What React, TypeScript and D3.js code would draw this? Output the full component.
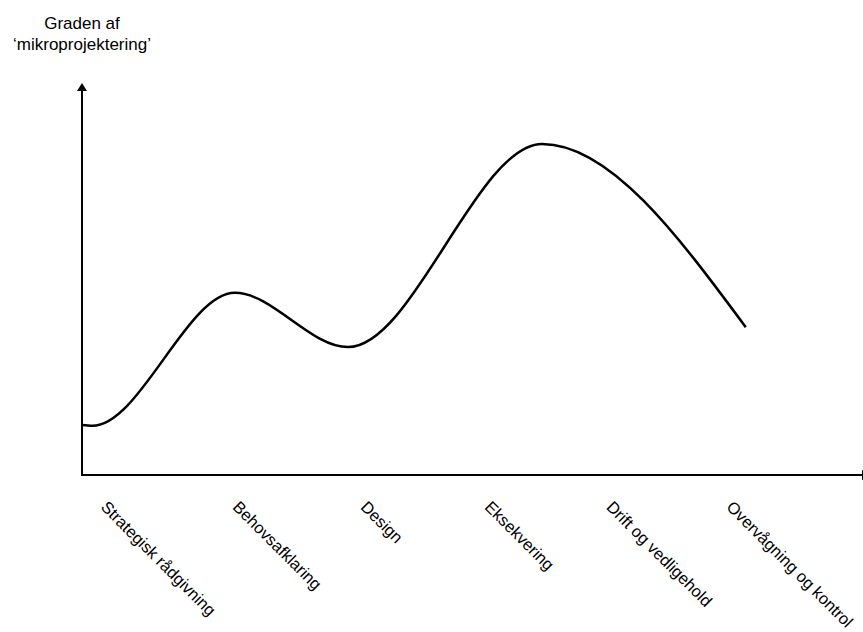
import React from "react";
import * as d3 from "d3";

const W = 863;
const H = 632;

// curve: x in % of the time axis, y in % of the height of the axis
const curveX = [0, 1.3, 19.6, 34.1, 59.0, 85.1];
const curveY = [12.8, 12.6, 46.7, 32.8, 84.9, 37.9];

const categories = [
  "Strategisk rådgivning",
  "Behovsafklaring",
  "Design",
  "Eksekvering",
  "Drift og vedligehold",
  "Overvågning og kontrol",
];
const categoryPos = [2.3, 19.2, 35.6, 51.5, 67.1, 82.5];

const titleLines = ["Graden af", "\u2018mikroprojektering\u2019"];

export default function App() {
  const x0 = 82;
  const y0 = 475;
  const xScale = d3.scaleLinear().domain([0, 100]).range([x0, 862]);
  const yScale = d3.scaleLinear().domain([0, 100]).range([y0, 85]);

  const pts: [number, number][] = curveX.map((v, i) => [v, curveY[i]]);
  const line = d3
    .line<[number, number]>()
    .x((d) => xScale(d[0]))
    .y((d) => yScale(d[1]))
    .curve(d3.curveMonotoneX);

  const font = "'Liberation Sans', Arial, sans-serif";

  return (
    <svg
      width={W}
      height={H}
      style={{ position: "absolute", left: 0, top: 0, background: "#fff" }}
      fontFamily={font}
    >
      <rect width={W} height={H} fill="#fff" />
      {/* axes */}
      <line x1={x0} y1={y0} x2={x0} y2={90} stroke="#000" strokeWidth={2} />
      <path d={`M${x0 - 5},${91} L${x0},${83} L${x0 + 5},${91} Z`} fill="#000" />
      <line x1={x0 - 1} y1={y0} x2={862} y2={y0} stroke="#000" strokeWidth={2} />
      <path d={`M862,${y0 - 5} L872,${y0} L862,${y0 + 5} Z`} fill="#000" />

      {/* curve */}
      <path d={line(pts) || ""} fill="none" stroke="#000" strokeWidth={2.5} />

      {/* title */}
      {titleLines.map((t, i) => (
        <text key={i} x={82} y={29 + i * 21} textAnchor="middle" fontSize={17} fill="#000">
          {t}
        </text>
      ))}

      {/* category labels */}
      {categories.map((c, i) => {
        const x = xScale(categoryPos[i]);
        const y = 508;
        return (
          <text
            key={c}
            x={x}
            y={y}
            transform={`rotate(45, ${x}, ${y})`}
            fontSize={16.5}
            fill="#000"
          >
            {c}
          </text>
        );
      })}
    </svg>
  );
}
